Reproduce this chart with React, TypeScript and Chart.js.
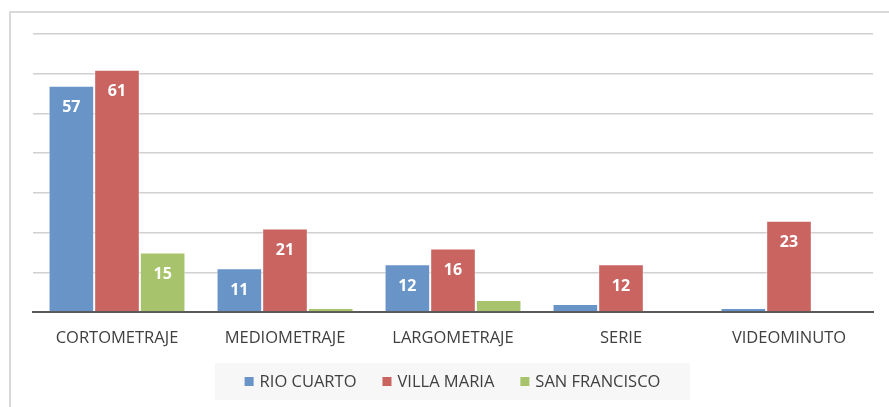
import React, { useEffect, useRef } from "react";
import { Chart, registerables } from "chart.js";

Chart.register(...registerables);

const categories = ["CORTOMETRAJE", "MEDIOMETRAJE", "LARGOMETRAJE", "SERIE", "VIDEOMINUTO"];
const seriesNames = ["RIO CUARTO", "VILLA MARIA", "SAN FRANCISCO"];
const rioCuarto = [57, 11, 12, 2, 1];
const villaMaria = [61, 21, 16, 12, 23];
const sanFrancisco = [15, 1, 3, 0, 0];
const yMax = 70;
const yStep = 10;

const colors = ["#6994C8", "#C96461", "#A7C46C"];
const FONT = "'Open Sans', 'Liberation Sans', sans-serif";

const framePlugin = {
  id: "frame",
  beforeDraw(chart: any) {
    const ctx = chart.ctx;
    ctx.save();
    ctx.fillStyle = "#ffffff";
    ctx.fillRect(0, 0, chart.width, chart.height);
    ctx.strokeStyle = "#d9d9d9";
    ctx.lineWidth = 2;
    ctx.beginPath();
    ctx.moveTo(10, chart.height + 5);
    ctx.lineTo(10, 12);
    ctx.lineTo(chart.width + 5, 12);
    ctx.stroke();
    ctx.restore();
  },
};

const labelPlugin = {
  id: "barLabels",
  afterDatasetsDraw(chart: any) {
    const ctx = chart.ctx;
    ctx.save();
    ctx.fillStyle = "#ffffff";
    ctx.font = `bold 16px ${FONT}`;
    ctx.textAlign = "center";
    ctx.textBaseline = "middle";
    chart.data.datasets.forEach((ds: any, di: number) => {
      const meta = chart.getDatasetMeta(di);
      meta.data.forEach((bar: any, i: number) => {
        const v = ds.data[i];
        if (v >= 5) {
          ctx.fillText(String(v), bar.x, bar.y + 22);
        }
      });
    });
    ctx.restore();
  },
};

const legendPlugin = {
  id: "customLegend",
  afterDraw(chart: any) {
    const ctx = chart.ctx;
    ctx.save();
    const top = 363;
    const h = 37;
    ctx.fillStyle = "#f7f7f7";
    ctx.fillRect(215, top, 475, h);
    ctx.font = `16.5px ${FONT}`;
    ctx.textBaseline = "middle";
    ctx.textAlign = "left";
    const cy = top + h / 2;
    const gap = 26;
    const box = 9;
    const widths = chart.data.datasets.map((ds: any) => box + 6 + ctx.measureText(ds.label).width);
    const total = widths.reduce((a: number, b: number) => a + b, 0) + gap * (widths.length - 1);
    let x = 215 + (475 - total) / 2;
    chart.data.datasets.forEach((ds: any, i: number) => {
      ctx.fillStyle = ds.backgroundColor;
      ctx.fillRect(x, cy - box / 2, box, box);
      ctx.fillStyle = "#404040";
      ctx.fillText(ds.label, x + box + 6, cy + 1);
      x += widths[i] + gap;
    });
    ctx.restore();
  },
};

export default function App() {
  const ref = useRef<HTMLCanvasElement>(null);
  useEffect(() => {
    document.body.style.margin = "0";
    const data = [rioCuarto, villaMaria, sanFrancisco];
    const chart = new Chart(ref.current!, {
      type: "bar",
      data: {
        labels: categories,
        datasets: seriesNames.map((name, i) => ({
          label: name,
          data: data[i],
          backgroundColor: colors[i],
          borderColor: "rgba(255,255,255,0.45)",
          borderWidth: 1,
          categoryPercentage: 0.815,
          barPercentage: 1,
        })),
      },
      options: {
        animation: false,
        responsive: false,
        maintainAspectRatio: false,
        layout: { padding: { left: 33, right: 16, top: 34, bottom: 45 } },
        plugins: {
          legend: { display: false },
          tooltip: { enabled: false },
        },
        scales: {
          x: {
            grid: { display: false, drawTicks: false },
            border: { display: true, color: "#595959", width: 2 },
            ticks: { color: "#404040", font: { family: FONT, size: 16.5 }, padding: 16 },
            afterFit: (s: any) => { s.height = 50; },
          },
          y: {
            min: 0,
            max: yMax,
            ticks: { display: false, stepSize: yStep },
            grid: { color: "#d0d0d0", lineWidth: 1.5, drawTicks: false },
            border: { display: false },
            afterFit: (s: any) => { s.width = 0; },
          },
        },
      },
      plugins: [framePlugin, labelPlugin, legendPlugin],
    });
    return () => chart.destroy();
  }, []);
  return (
    <div style={{ width: 889, height: 407 }}>
      <canvas ref={ref} width={889} height={407} style={{ display: "block" }} />
    </div>
  );
}
